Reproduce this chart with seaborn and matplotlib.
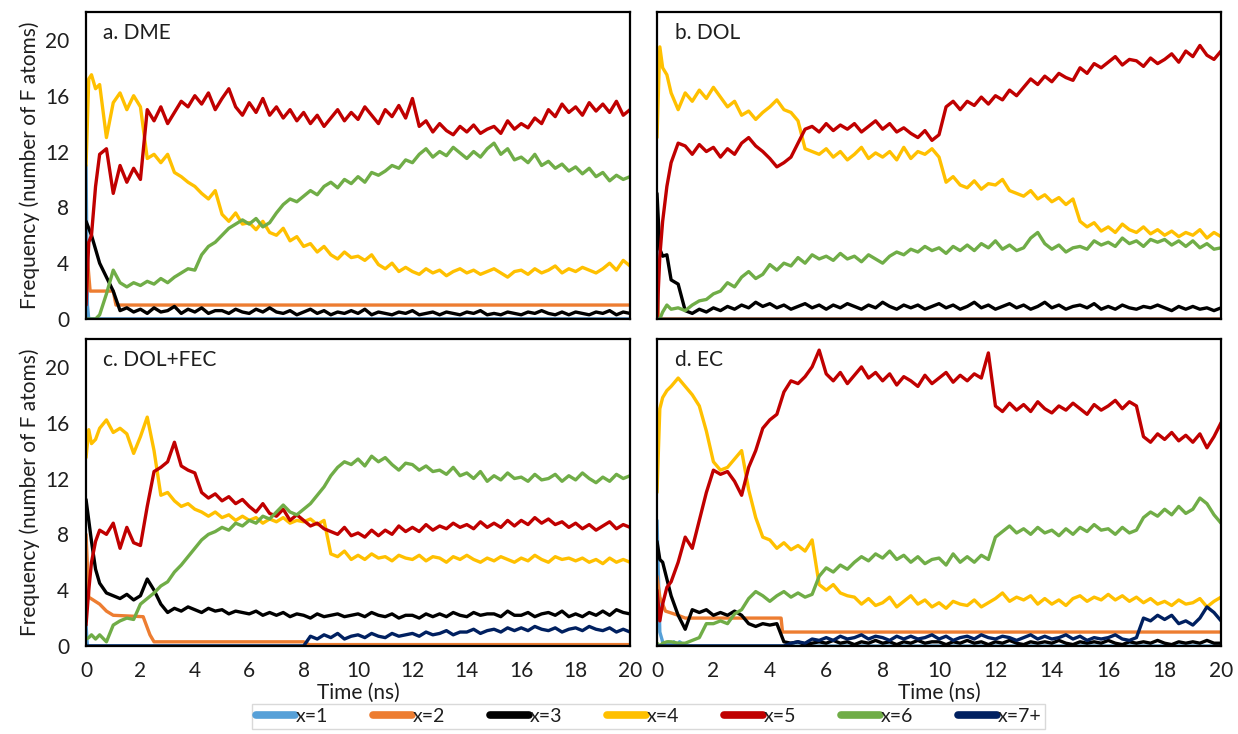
import numpy as np
import pandas as pd
import matplotlib
matplotlib.use("Agg")
import matplotlib.pyplot as plt
from matplotlib.lines import Line2D
import seaborn as sns

# Shared sampling grid (ns): dense start, then every 0.25 ns
T = np.concatenate([[0.0, 0.1, 0.2, 0.35, 0.5, 0.75], np.arange(1.0, 20.01, 0.25)])

SPECIES = ["x=1", "x=2", "x=3", "x=4", "x=5", "x=6", "x=7+"]
COLORS = ["#56A0D8", "#ED7D31", "#000000", "#FFC000", "#C00000", "#70AD47", "#002060"]
PANELS = ["a. DME", "b. DOL", "c. DOL+FEC", "d. EC"]
X_TICKS = list(range(0, 21, 2))
Y_TICKS = [0, 4, 8, 12, 16, 20]

# ---------------- a. DME ----------------
dme_x1_t = [0, 0.05, 0.1, 20]
dme_x1 = [11.0, 1.0, 0.0, 0.0]
dme_x2_t = [0, 0.15, 1.0, 1.1, 20]
dme_x2 = [5.5, 2.0, 2.0, 1.0, 1.0]
dme_x3 = [7.0, 6.5, 6.0, 5.0, 4.0, 3.0,
          2.0, 0.6, 0.8, 0.5, 0.7, 0.4, 0.8, 0.5, 0.6, 0.9, 0.4, 0.7, 0.5, 0.8, 0.4, 0.6,
          0.6, 0.4, 0.7, 0.5, 0.4, 0.7, 0.5, 0.8, 0.5, 0.4, 0.6, 0.3, 0.5, 0.7, 0.4, 0.6,
          0.3, 0.5, 0.4, 0.6, 0.4, 0.7, 0.3, 0.5, 0.4, 0.3, 0.5, 0.4, 0.6, 0.3, 0.4, 0.5,
          0.3, 0.5, 0.4, 0.3, 0.5, 0.4, 0.6, 0.3, 0.4, 0.3, 0.5, 0.4, 0.3, 0.5, 0.4, 0.6,
          0.4, 0.3, 0.5, 0.3, 0.5, 0.4, 0.3, 0.5, 0.4, 0.6, 0.3, 0.5, 0.4]
dme_x4 = [11.0, 17.2, 17.5, 16.5, 16.8, 13.0,
          15.5, 16.2, 15.0, 16.0, 15.2, 11.5, 11.8, 11.2, 11.8, 10.5, 10.2, 9.8,
          9.5, 9.0, 8.6, 9.2, 7.5, 7.0, 7.6, 6.8, 6.9, 6.4, 7.0, 6.2, 6.0, 6.5, 5.6, 5.9,
          5.2, 5.4, 4.8, 5.2, 4.6, 4.3, 4.8, 4.4, 4.5, 4.2, 4.6, 3.9, 3.6, 4.0, 3.4, 3.7,
          3.4, 3.2, 3.6, 3.3, 3.5, 3.1, 3.4, 3.6, 3.3, 3.5, 3.2, 3.4, 3.6, 3.3, 3.0, 3.4,
          3.5, 3.2, 3.6, 3.3, 3.5, 3.8, 3.3, 3.6, 3.4, 3.7, 3.5, 3.3, 3.6, 4.0, 3.5, 4.2,
          3.8]
dme_x5 = [1.0, 5.5, 6.0, 9.5, 11.8, 12.2,
          9.0, 11.0, 9.8, 10.8, 10.0, 15.0, 14.2, 15.2, 14.0, 14.8, 15.6, 15.2,
          16.0, 15.4, 16.2, 15.0, 15.8, 16.5, 15.2, 14.6, 15.5, 14.8, 15.8, 14.6,
          15.2, 14.4, 15.0, 14.2, 14.8, 14.0, 14.6, 13.8, 14.4, 15.0, 14.2, 14.8,
          14.3, 15.2, 14.6, 14.0, 15.0, 14.5, 15.3, 14.4, 15.8, 13.8, 14.2, 13.4,
          14.0, 13.5, 13.2, 13.8, 13.4, 13.9, 13.3, 13.6, 13.8, 13.3, 14.2, 13.6,
          14.0, 13.7, 14.4, 14.0, 15.0, 14.5, 15.4, 14.8, 15.2, 14.6, 15.5, 14.9,
          15.4, 14.8, 15.6, 14.6, 15.0]
dme_x6 = [0.0, 0.0, 0.0, 0.0, 0.3, 1.8,
          3.5, 2.6, 2.3, 2.6, 2.4, 2.7, 2.5, 2.9, 2.6, 3.0, 3.3, 3.6,
          3.5, 4.6, 5.2, 5.5, 6.0, 6.5, 6.8, 7.1, 6.8, 7.2, 6.6, 6.9, 7.6, 8.2, 8.6, 8.4,
          8.8, 9.2, 8.9, 9.5, 9.8, 9.4, 10.0, 9.7, 10.2, 9.8, 10.5, 10.3,
          10.6, 11.0, 10.8, 11.4, 11.2, 11.8, 12.2, 11.6, 12.0, 11.7, 12.3, 11.9,
          11.5, 12.0, 11.6, 12.2, 12.6, 11.8, 12.2, 11.4, 11.6, 11.2, 11.8, 11.0,
          11.3, 10.8, 11.1, 10.6, 10.9, 10.4, 10.8, 10.2, 10.5, 9.9, 10.3, 10.0,
          10.2]
dme_x7_t = [0, 20]
dme_x7 = [0.0, 0.0]

# ---------------- b. DOL ----------------
dol_x1_t = [0, 0.05, 20]
dol_x1 = [7.0, 0.0, 0.0]
dol_x2_t = [0, 0.05, 20]
dol_x2 = [4.0, 0.0, 0.0]
dol_x3 = [9.0, 5.0, 4.5, 4.6, 2.8, 2.5,
          0.6, 0.4, 0.7, 0.5, 0.8, 0.6, 0.9, 0.7, 1.0, 0.8, 1.2, 0.9, 1.1, 0.8, 1.0, 0.7,
          0.9, 1.1, 0.8, 1.0, 0.7, 1.0, 0.8, 1.1, 0.9, 0.7, 1.0, 0.8, 1.2, 0.9, 0.7, 1.0,
          0.8, 1.0, 0.7, 0.9, 1.1, 0.8, 1.0, 0.7, 0.9, 1.2, 0.8, 1.0, 0.7, 0.9, 1.1, 0.8,
          1.0, 0.7, 0.9, 1.2, 0.8, 1.0, 0.7, 0.9, 1.0, 0.8, 1.1, 0.7, 0.9, 0.7, 1.0, 0.8,
          0.7, 0.9, 0.8, 1.0, 0.8, 0.6, 0.9, 0.7, 0.9, 0.7, 0.8, 0.6, 0.8]
dol_x4 = [13.0, 19.5, 18.0, 17.5, 16.2, 15.0,
          16.2, 15.6, 16.4, 15.8, 16.6, 15.9, 15.2, 15.6, 14.6, 14.9, 14.3, 14.8,
          15.2, 15.7, 15.0, 14.8, 14.2, 12.2, 12.0, 11.8, 12.2, 11.6, 12.0, 11.4,
          11.8, 12.3, 11.5, 11.9, 11.6, 12.0, 11.4, 12.3, 11.5, 12.0, 11.8, 12.2,
          11.6, 9.8, 10.2, 9.6, 9.4, 9.9, 9.3, 9.7, 9.6, 10.0, 9.2, 9.0,
          8.8, 9.2, 8.6, 8.9, 8.4, 8.7, 8.2, 8.6, 7.0, 6.6, 6.9, 6.3,
          6.6, 6.2, 6.8, 6.4, 6.2, 6.6, 6.1, 6.4, 6.0, 6.3, 5.9, 6.2, 6.0, 6.4, 5.8, 6.2,
          5.9]
dol_x5 = [0.0, 4.5, 7.0, 9.5, 11.2, 12.6,
          12.4, 11.8, 12.5, 12.0, 12.3, 11.6, 12.2, 11.8, 12.6, 13.0, 12.4, 12.0,
          11.5, 10.9, 11.2, 11.6, 12.6, 13.6, 13.8, 13.4, 14.0, 13.5, 13.9, 13.6,
          14.0, 13.4, 13.8, 14.2, 13.6, 14.0, 13.4, 13.7, 13.3, 13.0, 13.5, 12.8,
          13.2, 15.2, 15.6, 15.0, 15.6, 15.3, 15.9, 15.4, 16.0, 15.7, 16.4, 16.0,
          16.6, 17.2, 16.8, 17.4, 17.0, 17.6, 17.3, 17.1, 18.0, 17.6, 18.3, 18.0,
          18.4, 18.8, 18.2, 18.6, 18.5, 18.1, 18.7, 18.3, 18.6, 19.0, 18.4, 19.2,
          18.8, 19.6, 18.9, 18.6, 19.2]
dol_x6 = [0.0, 0.0, 0.5, 1.0, 0.7, 0.8,
          0.6, 1.0, 1.3, 1.4, 1.8, 2.0, 2.6, 2.3, 3.0, 3.4, 2.9, 3.2,
          3.9, 3.5, 4.0, 3.8, 4.4, 4.0, 4.6, 4.3, 4.5, 4.2, 4.7, 4.3, 4.5, 4.1, 4.6, 4.3,
          4.0, 4.5, 4.8, 4.6, 5.0, 4.8, 5.2, 4.9, 5.1, 4.7, 5.2, 4.9, 5.3, 4.9, 5.4, 5.1,
          5.6, 5.0, 5.3, 4.9, 5.1, 5.8, 6.2, 5.4, 5.0, 5.3, 4.8, 5.1, 5.2, 5.0, 5.6, 5.3,
          5.5, 5.2, 5.8, 5.4, 5.6, 5.2, 5.7, 5.5, 5.7, 5.3, 5.6, 5.2, 5.6, 5.1, 5.4, 5.0,
          5.1]
dol_x7_t = [0, 20]
dol_x7 = [0.0, 0.0]

# ---------------- c. DOL+FEC ----------------
fec_x1_t = [0, 0.05, 20]
fec_x1 = [1.5, 0.0, 0.0]
fec_x2_t = [0, 0.1, 0.5, 0.75, 1.0, 2.1, 2.35, 2.5, 8.0, 8.2, 20]
fec_x2 = [8.0, 3.5, 3.0, 2.5, 2.2, 2.1, 0.8, 0.3, 0.3, 0.1, 0.1]
fec_x3 = [10.5, 9.0, 7.5, 5.5, 4.5, 3.8,
          3.6, 3.4, 3.7, 3.3, 3.6, 4.8, 4.0, 3.0, 2.4, 2.7, 2.5, 2.8,
          2.6, 2.4, 2.7, 2.5, 2.6, 2.3, 2.5, 2.4, 2.3, 2.5, 2.2, 2.4, 2.2, 2.4, 2.1, 2.3,
          2.2, 2.0, 2.3, 2.1, 2.2, 2.3, 2.1, 2.2, 2.3, 2.1, 2.4, 2.2, 2.1, 2.3, 2.0, 2.2,
          2.2, 2.0, 2.3, 2.1, 2.3, 2.1, 2.4, 2.2, 2.1, 2.4, 2.2, 2.3, 2.3, 2.1, 2.5, 2.2,
          2.2, 2.4, 2.1, 2.3, 2.4, 2.2, 2.5, 2.1, 2.3, 2.1, 2.4, 2.2, 2.5, 2.2, 2.6, 2.4,
          2.3]
fec_x4 = [13.5, 15.5, 14.5, 14.8, 15.6, 16.2,
          15.3, 15.6, 15.2, 13.8, 15.0, 16.4, 14.0, 10.8, 11.0, 10.4, 10.0, 10.2,
          9.8, 9.6, 9.3, 9.6, 9.2, 9.4, 9.0, 9.3, 9.0, 9.2, 8.8, 9.1, 8.9, 9.2, 8.8, 9.0,
          8.9, 9.1, 8.7, 9.0, 6.6, 6.4, 6.8, 6.2, 6.5, 6.2, 6.6, 6.3, 6.4, 6.1, 6.5, 6.3,
          6.2, 6.5, 6.1, 6.4, 6.3, 6.0, 6.4, 6.2, 6.5, 6.2, 6.0, 6.3, 6.1, 6.4, 6.2, 6.0,
          6.3, 6.1, 6.5, 6.2, 6.0, 6.4, 6.2, 6.3, 6.1, 6.3, 6.0, 6.2, 5.9, 6.3, 6.0, 6.2,
          6.0]
fec_x5 = [1.5, 4.0, 6.0, 7.5, 8.3, 8.0,
          8.8, 7.0, 8.5, 7.4, 7.2, 10.0, 12.5, 12.8, 13.2, 14.6, 12.9, 12.6,
          12.4, 11.0, 10.6, 10.9, 10.4, 10.7, 10.2, 10.5, 10.0, 9.6, 10.2, 9.5,
          9.3, 9.8, 9.0, 9.4, 9.0, 8.6, 8.8, 8.4, 8.2, 8.0, 8.5, 7.9,
          8.1, 7.8, 8.3, 7.9, 8.3, 8.0, 8.6, 8.2, 8.5, 8.2, 8.7, 8.3,
          8.6, 8.4, 8.8, 8.5, 8.7, 8.4, 8.9, 8.5, 8.8, 8.5, 9.0, 8.6,
          9.0, 8.7, 9.2, 8.8, 9.1, 8.7, 8.9, 8.5, 8.8, 8.4, 8.7, 8.3, 8.6, 8.9, 8.4, 8.7,
          8.5]
fec_x6 = [0.5, 0.6, 0.8, 0.5, 0.8, 0.3,
          1.5, 1.8, 2.0, 1.9, 3.0, 3.4, 3.8, 4.3, 4.6, 5.3, 5.8, 6.4,
          7.0, 7.6, 8.0, 8.2, 8.5, 8.3, 8.8, 8.6, 9.0, 8.8, 9.3, 9.1, 9.6, 10.1, 9.6, 9.4,
          9.8, 10.2, 10.8, 11.4, 12.2, 12.8, 13.2, 13.0, 13.4, 12.9, 13.6, 13.2,
          13.5, 13.0, 12.6, 13.1, 13.0, 12.6, 12.9, 12.5, 12.6, 12.3, 12.8, 12.2,
          12.4, 12.0, 12.5, 11.8, 12.2, 11.9, 12.4, 12.0, 12.1, 11.8, 12.3, 11.9,
          12.0, 12.3, 11.8, 12.2, 11.9, 12.4, 12.0, 11.7, 12.1, 11.8, 12.3, 12.0,
          12.2]
fec_x7 = [0.0, 0.0, 0.0, 0.0, 0.0, 0.0,
          0.0, 0.0, 0.0, 0.0, 0.0, 0.0, 0.0, 0.0, 0.0, 0.0, 0.0, 0.0,
          0.0, 0.0, 0.0, 0.0, 0.0, 0.0, 0.0, 0.0, 0.0, 0.0, 0.0, 0.0, 0.0, 0.0, 0.0, 0.0,
          0.0, 0.7, 0.5, 0.8, 0.6, 0.9, 0.5, 0.7, 0.8, 0.6, 0.9, 0.7, 0.6, 0.9, 0.7, 0.8,
          0.9, 0.7, 1.0, 0.8, 0.9, 1.1, 0.8, 1.0, 1.0, 1.2, 0.9, 1.1, 1.2, 1.0, 1.3, 1.1,
          1.3, 1.1, 1.4, 1.2, 1.1, 1.3, 1.0, 1.2, 1.3, 1.1, 1.4, 1.2, 1.1, 1.3, 1.0, 1.2,
          1.0]

# ---------------- d. EC ----------------
ec_x1_t = [0, 0.1, 0.2, 0.3, 0.4, 0.5, 0.6, 0.7, 0.8, 1.0, 20]
ec_x1 = [9.0, 1.0, 0.3, 0.0, 0.3, 0.0, 0.3, 0.0, 0.3, 0.0, 0.0]
ec_x2_t = [0, 0.1, 0.3, 0.75, 1.0, 4.4, 4.45, 20]
ec_x2 = [5.0, 3.5, 2.5, 2.2, 2.0, 2.0, 1.0, 1.0]
ec_x3 = [7.5, 6.2, 6.0, 4.8, 3.6, 2.2,
         1.2, 2.6, 2.4, 2.6, 2.2, 2.4, 2.2, 2.5, 2.2, 1.6, 1.4, 1.6,
         1.5, 1.6, 0.3, 0.2, 0.3, 0.1, 0.2, 0.3, 0.2, 0.4, 0.2, 0.3, 0.1, 0.3, 0.2, 0.4,
         0.2, 0.3, 0.1, 0.3, 0.2, 0.4, 0.2, 0.3, 0.3, 0.1, 0.3, 0.2, 0.4, 0.2, 0.3, 0.1,
         0.3, 0.2, 0.4, 0.2, 0.1, 0.3, 0.2, 0.3, 0.2, 0.4, 0.2, 0.1, 0.3, 0.2, 0.3, 0.2,
         0.4, 0.2, 0.1, 0.3, 0.2, 0.3, 0.2, 0.4, 0.2, 0.1, 0.3, 0.2, 0.3, 0.2, 0.4, 0.2,
         0.2]
ec_x4 = [11.0, 17.0, 17.8, 18.3, 18.6, 19.2,
         18.6, 18.0, 17.2, 15.4, 13.2, 12.6, 12.8, 13.4, 14.0, 11.2, 9.2, 7.8,
         7.6, 7.0, 7.4, 6.9, 7.2, 6.8, 7.6, 4.4, 4.0, 4.4, 3.8, 3.6, 3.5, 3.0, 3.4, 2.9,
         3.1, 3.5, 2.8, 3.2, 3.6, 3.0, 3.3, 2.8, 3.1, 2.7, 3.2, 3.0, 2.9, 3.3, 2.8, 3.1,
         3.4, 3.8, 3.2, 3.5, 3.3, 3.6, 3.0, 3.4, 3.0, 3.3, 2.9, 3.4, 3.6, 3.2, 3.5, 3.3,
         3.7, 3.3, 3.6, 3.2, 3.5, 3.1, 3.4, 3.0, 3.2, 2.9, 3.3, 3.0, 3.1, 3.4, 2.8, 3.2,
         3.5]
ec_x5 = [4.0, 1.8, 3.0, 4.2, 4.6, 6.0,
         7.8, 7.0, 9.0, 11.0, 12.6, 12.3, 12.5, 11.8, 10.8, 12.8, 14.0, 15.6,
         16.2, 16.6, 18.2, 19.0, 18.8, 19.3, 20.0, 21.2, 19.5, 19.0, 19.6, 18.8,
         19.4, 20.0, 19.2, 19.6, 19.0, 19.5, 18.7, 19.3, 19.0, 18.6, 19.4, 18.8,
         19.2, 19.6, 18.9, 19.4, 19.0, 19.5, 19.2, 21.0, 17.2, 16.8, 17.4, 16.9,
         17.3, 16.8, 17.5, 17.0, 16.7, 17.2, 16.9, 17.4, 17.0, 16.6, 17.3, 16.9,
         17.2, 17.6, 17.0, 17.5, 17.2, 15.0, 14.6, 15.2, 14.8, 15.3, 14.7, 15.1,
         14.6, 15.2, 14.2, 15.0, 16.0]
ec_x6 = [0.2, 0.0, 0.2, 0.3, 0.3, 0.2,
         0.2, 0.4, 0.6, 1.6, 1.6, 1.8, 1.6, 2.3, 2.6, 3.4, 3.9, 3.6,
         3.2, 3.6, 3.9, 3.5, 3.8, 3.5, 3.7, 5.0, 5.6, 5.3, 5.8, 5.5, 6.0, 6.4, 6.1, 6.6,
         6.3, 6.8, 6.2, 6.5, 6.0, 6.4, 5.9, 6.2, 6.3, 5.8, 6.6, 6.0, 6.4, 6.0, 6.5, 6.2,
         7.8, 8.2, 8.6, 8.1, 8.4, 8.0, 8.5, 8.1, 8.3, 7.9, 8.4, 8.0, 8.5, 8.2, 8.7, 8.3,
         8.4, 8.0, 8.5, 8.1, 8.3, 9.2, 9.6, 9.3, 9.8, 9.4, 10.0, 9.5, 9.8, 10.6, 10.2, 9.4,
         8.8]
ec_x7 = [0.0, 0.0, 0.0, 0.0, 0.0, 0.0,
         0.0, 0.0, 0.0, 0.0, 0.0, 0.0, 0.0, 0.0, 0.0, 0.0, 0.0, 0.0,
         0.0, 0.0, 0.0, 0.2, 0.3, 0.2, 0.5, 0.4, 0.6, 0.4, 0.7, 0.5, 0.6, 0.8, 0.5, 0.7,
         0.6, 0.4, 0.7, 0.5, 0.7, 0.5, 0.6, 0.8, 0.5, 0.7, 0.4, 0.6, 0.7, 0.5, 0.8, 0.6,
         0.5, 0.7, 0.6, 0.4, 0.6, 0.8, 0.5, 0.7, 0.5, 0.6, 0.8, 0.5, 0.7, 0.4, 0.6, 0.5,
         0.6, 0.8, 0.5, 0.4, 0.6, 2.0, 1.8, 2.2, 1.9, 2.2, 1.6, 1.8, 1.5, 2.0, 2.8, 2.4,
         1.8]

panel_series = {
    "a. DME": [(dme_x1_t, dme_x1), (dme_x2_t, dme_x2), (T, dme_x3), (T, dme_x4),
               (T, dme_x5), (T, dme_x6), (dme_x7_t, dme_x7)],
    "b. DOL": [(dol_x1_t, dol_x1), (dol_x2_t, dol_x2), (T, dol_x3), (T, dol_x4),
               (T, dol_x5), (T, dol_x6), (dol_x7_t, dol_x7)],
    "c. DOL+FEC": [(fec_x1_t, fec_x1), (fec_x2_t, fec_x2), (T, fec_x3), (T, fec_x4),
                   (T, fec_x5), (T, fec_x6), (T, fec_x7)],
    "d. EC": [(ec_x1_t, ec_x1), (ec_x2_t, ec_x2), (T, ec_x3), (T, ec_x4),
              (T, ec_x5), (T, ec_x6), (T, ec_x7)],
}

rows = []
for panel, series in panel_series.items():
    for sp, (tt, vv) in zip(SPECIES, series):
        for t, v in zip(tt, vv):
            rows.append((panel, sp, float(t), float(v)))
df = pd.DataFrame(rows, columns=["panel", "species", "time", "count"])

sns.set_theme(style="white")
plt.rcParams["font.family"] = ["Lato", "DejaVu Sans"]

palette = dict(zip(SPECIES, COLORS))
TEXT = "#1e1e1e"

fig = plt.figure(figsize=(12.38, 7.34), dpi=100)
# axes rectangles in figure fractions: [left, bottom, width, height]
rects = [
    [0.0695, 0.5654, 0.4394, 0.4183],
    [0.5307, 0.5654, 0.4556, 0.4183],
    [0.0695, 0.1199, 0.4394, 0.4183],
    [0.5307, 0.1199, 0.4556, 0.4183],
]

for i, (panel, rect) in enumerate(zip(PANELS, rects)):
    ax = fig.add_axes(rect)
    sub = df[df["panel"] == panel]
    sns.lineplot(data=sub, x="time", y="count", hue="species", hue_order=SPECIES,
                 palette=palette, estimator=None, sort=False, legend=False,
                 linewidth=2.4, ax=ax)
    ax.set_xlim(0, 20)
    ax.set_ylim(0, 22)
    ax.set_xticks(X_TICKS)
    ax.set_yticks(Y_TICKS)
    ax.tick_params(length=0, labelsize=15, colors=TEXT)
    ax.tick_params(axis="y", pad=12)
    ax.tick_params(axis="x", pad=11)
    for sp in ax.spines.values():
        sp.set_color("black")
        sp.set_linewidth(1.6)
    ax.set_xlabel("")
    ax.set_ylabel("")
    if i % 2 == 1:
        ax.set_yticklabels([])
    else:
        ax.set_ylabel("Frequency (number of F atoms)", fontsize=15, color=TEXT, labelpad=4)
    if i < 2:
        ax.set_xticklabels([])
    else:
        ax.set_xlabel("Time (ns)", fontsize=15, color=TEXT, labelpad=1)
    ax.text(0.032, 0.965, panel, transform=ax.transAxes, ha="left", va="top",
            fontsize=15, color=TEXT)

handles = [Line2D([0], [0], color=c, lw=5.5, solid_capstyle="round") for c in COLORS]
leg = fig.legend(handles, SPECIES, loc="center", bbox_to_anchor=(0.524, 0.024), ncol=7,
                 frameon=True, fancybox=False, fontsize=14, handlelength=2.0,
                 handletextpad=0.05, columnspacing=2.3, borderpad=0.2)
leg.get_frame().set_edgecolor("#d0d0d0")
leg.get_frame().set_linewidth(1.0)
for txt in leg.get_texts():
    txt.set_color(TEXT)

fig.savefig("out.png", dpi=100)
